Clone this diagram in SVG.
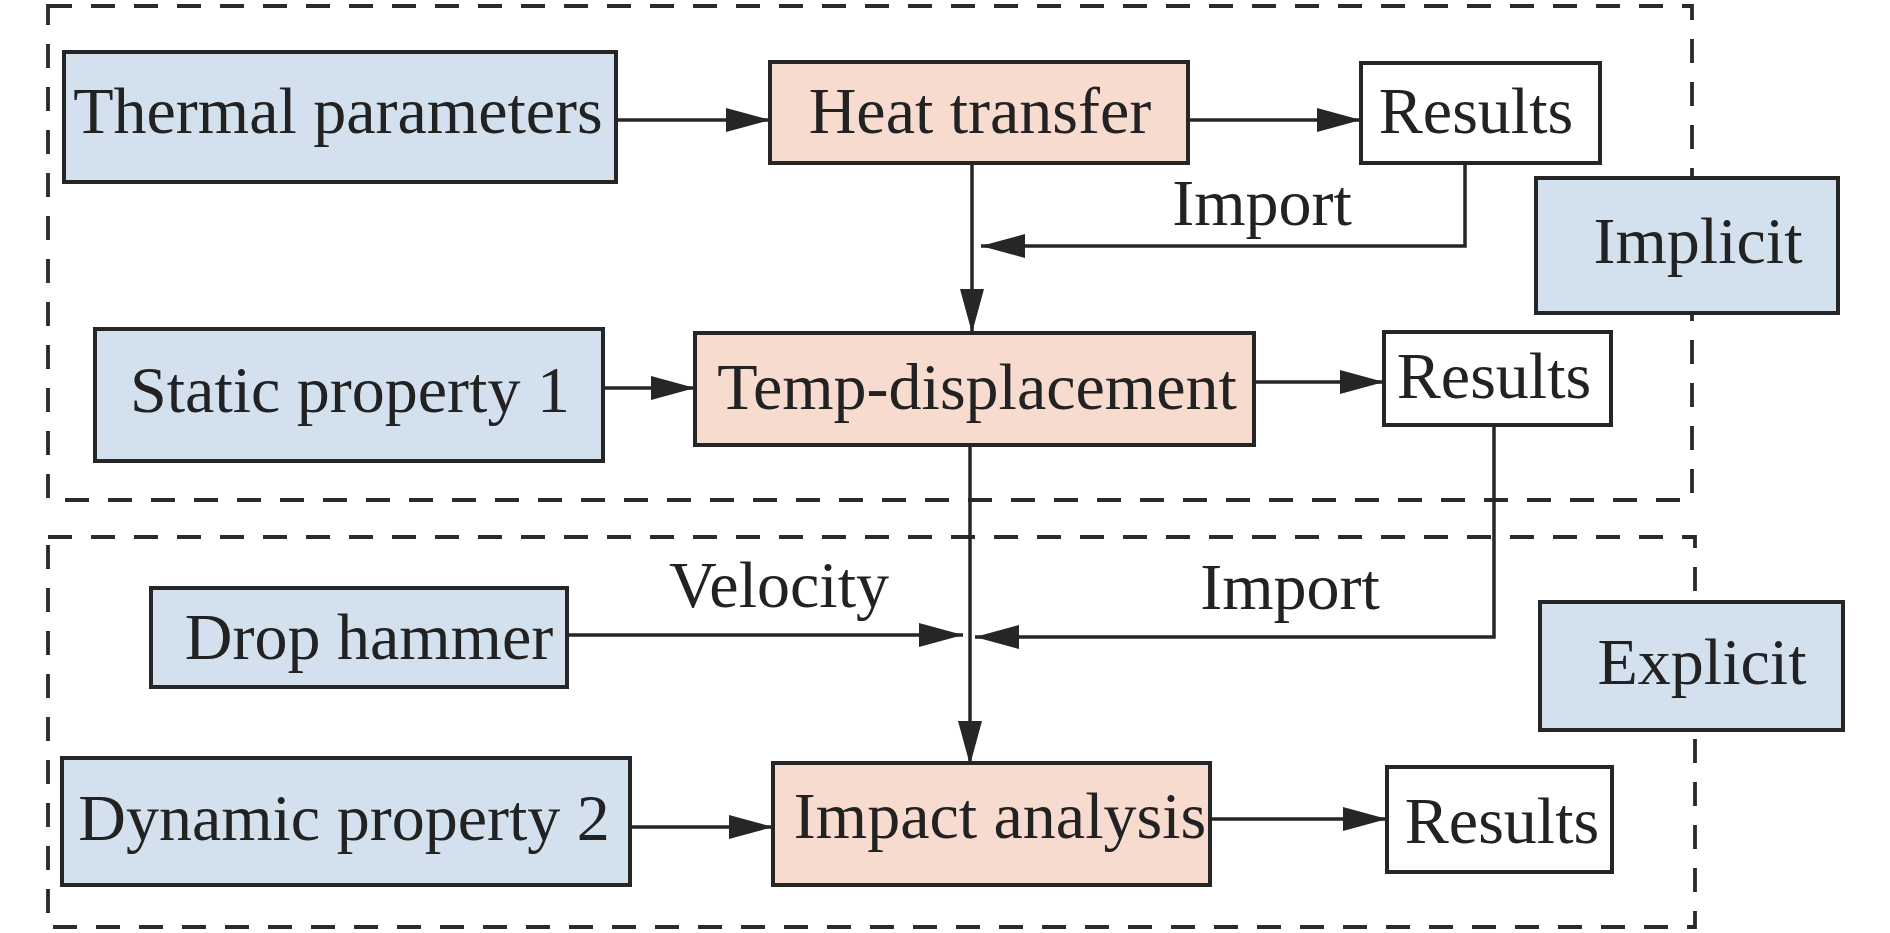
<svg xmlns="http://www.w3.org/2000/svg" width="1890" height="933" viewBox="0 0 1890 933">
<style>
.dash{fill:none;stroke:#2a2a2a;stroke-width:3.8;stroke-dasharray:24 19}
.blue{fill:#d3e1ee;stroke:#262626;stroke-width:4}
.salmon{fill:#f8dbcf;stroke:#262626;stroke-width:4}
.white{fill:#ffffff;stroke:#262626;stroke-width:4}
.lbl{font-family:"Liberation Serif","Times New Roman",serif;font-size:66px;fill:#222222;text-anchor:middle}
.con{fill:none;stroke:#262626;stroke-width:3.5}
.arr{marker-end:url(#ah)}
</style>
<defs>
<marker id="ah" viewBox="0 0 44 24" refX="44" refY="12" markerWidth="44" markerHeight="24" markerUnits="userSpaceOnUse" orient="auto">
<path d="M0,0 L44,12 L0,24 z" fill="#262626"/>
</marker>
</defs>
<rect width="1890" height="933" fill="#ffffff"/>
<g id="regions">
<rect class="dash" x="48" y="6" width="1644" height="494"/>
<rect class="dash" x="48" y="537" width="1647" height="390"/>
</g>
<g id="connectors">
<line class="con arr" x1="616" y1="120" x2="770" y2="120"/>
<line class="con arr" x1="1188" y1="120" x2="1361" y2="120"/>
<line class="con arr" x1="972" y1="163" x2="972" y2="333"/>
<polyline class="con arr" points="1465,163 1465,246 981,246"/>
<line class="con arr" x1="603" y1="388" x2="695" y2="388"/>
<line class="con arr" x1="1254" y1="382" x2="1384" y2="382"/>
<polyline class="con arr" points="1494,425 1494,637 975,637"/>
<line class="con arr" x1="970" y1="445" x2="970" y2="765"/>
<line class="con arr" x1="567" y1="635" x2="963" y2="635"/>
<line class="con arr" x1="630" y1="827" x2="773" y2="827"/>
<line class="con arr" x1="1210" y1="819" x2="1387" y2="819"/>
<text class="lbl" x="1262" y="225">Import</text>
<text class="lbl" x="779" y="607">Velocity</text>
<text class="lbl" x="1290" y="609">Import</text>
</g>
<g id="thermal"><rect class="blue" x="64" y="52" width="552" height="130"/><text class="lbl" x="338" y="133">Thermal parameters</text></g>
<g id="heat"><rect class="salmon" x="770" y="62" width="418" height="101"/><text class="lbl" x="980" y="133">Heat transfer</text></g>
<g id="results1"><rect class="white" x="1361" y="63" width="239" height="100"/><text class="lbl" x="1476" y="133">Results</text></g>
<g id="implicit"><rect class="blue" x="1536" y="178" width="302" height="135"/><text class="lbl" x="1698" y="263">Implicit</text></g>
<g id="static"><rect class="blue" x="95" y="329" width="508" height="132"/><text class="lbl" x="350" y="412">Static property 1</text></g>
<g id="tempdisp"><rect class="salmon" x="695" y="333" width="559" height="112"/><text class="lbl" x="977" y="409">Temp-displacement</text></g>
<g id="results2"><rect class="white" x="1384" y="332" width="227" height="93"/><text class="lbl" x="1494" y="398">Results</text></g>
<g id="drop"><rect class="blue" x="151" y="588" width="416" height="99"/><text class="lbl" x="369" y="659">Drop hammer</text></g>
<g id="explicit"><rect class="blue" x="1540" y="602" width="303" height="128"/><text class="lbl" x="1702" y="684">Explicit</text></g>
<g id="dynamic"><rect class="blue" x="62" y="758" width="568" height="127"/><text class="lbl" x="344" y="840">Dynamic property 2</text></g>
<g id="impact"><rect class="salmon" x="773" y="763" width="437" height="122"/><text class="lbl" x="1000" y="838">Impact analysis</text></g>
<g id="results3"><rect class="white" x="1387" y="767" width="225" height="105"/><text class="lbl" x="1502" y="843">Results</text></g>
</svg>
